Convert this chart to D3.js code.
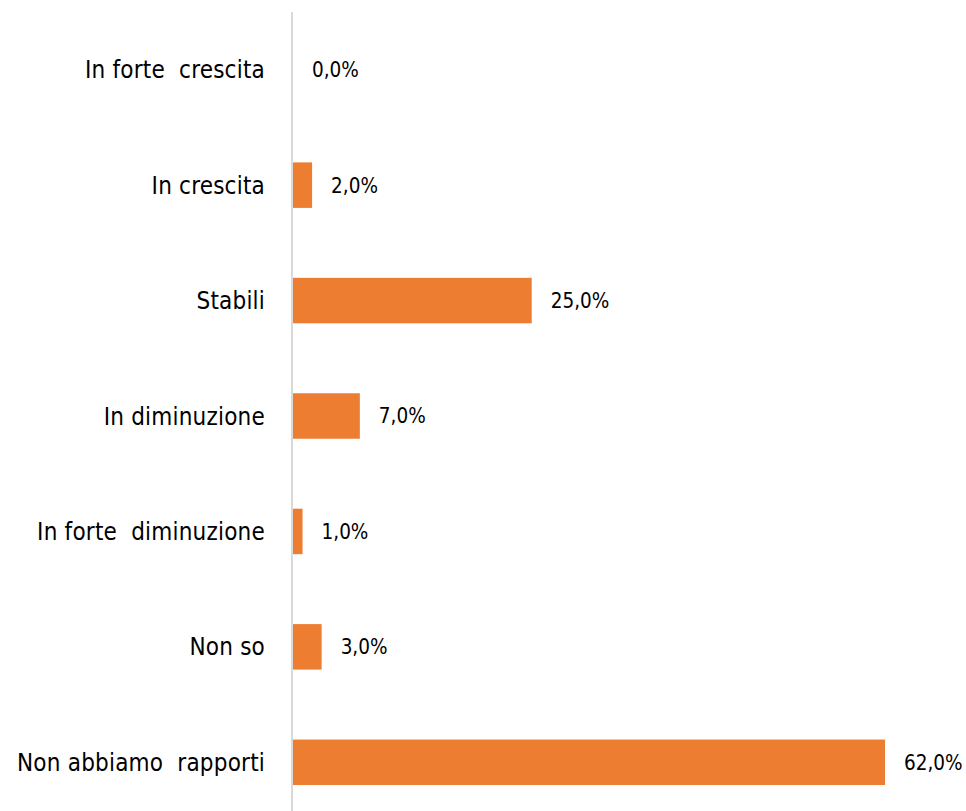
<!DOCTYPE html>
<html>
<head>
<meta charset="utf-8">
<script src="https://cdn.jsdelivr.net/npm/d3@7"></script>
<style>
  html, body { margin: 0; padding: 0; background: #ffffff; }
  svg { display: block; }
  .cat { font-family: "DejaVu Sans Condensed", "DejaVu Sans", sans-serif; font-stretch: condensed; font-size: 24px; fill: #000; white-space: pre; letter-spacing: 0.2px; }
  .val { font-family: "DejaVu Sans Condensed", "DejaVu Sans", sans-serif; font-stretch: condensed; font-size: 20.5px; fill: #000; }
</style>
</head>
<body>
<svg id="chart" width="966" height="811"></svg>
<script>
// Survey answers, top to bottom
const categories = [
  "In forte  crescita",
  "In crescita",
  "Stabili",
  "In diminuzione",
  "In forte  diminuzione",
  "Non so",
  "Non abbiamo  rapporti"
];
// Share of respondents (%)
const values = [0, 2, 25, 7, 1, 3, 62];
const valueLabels = ["0,0%", "2,0%", "25,0%", "7,0%", "1,0%", "3,0%", "62,0%"];

const W = 966, H = 811;
const svg = d3.select("#chart");

const data = categories.map((c, i) => ({ cat: c, v: values[i], label: valueLabels[i] }));

const y = d3.scaleBand()
  .domain(categories)
  .range([12, 820])
  .paddingInner(0.606)
  .paddingOuter(0.303);

const x = d3.scaleLinear()
  .domain([0, d3.max(values)])
  .range([293, 885]);

// bars
svg.append("g")
  .selectAll("rect")
  .data(data)
  .join("rect")
  .attr("x", x(0))
  .attr("y", d => y(d.cat))
  .attr("width", d => x(d.v) - x(0))
  .attr("height", y.bandwidth())
  .attr("fill", "#ED7D31");

// vertical category axis line
svg.append("line")
  .attr("x1", 292).attr("x2", 292)
  .attr("y1", 12).attr("y2", H)
  .attr("stroke", "#d9d9d9")
  .attr("stroke-width", 2);

// category labels
svg.append("g")
  .selectAll("text")
  .data(data)
  .join("text")
  .attr("class", "cat")
  .attr("x", 265)
  .attr("y", d => y(d.cat) + y.bandwidth() / 2)
  .attr("dy", "0.36em")
  .attr("text-anchor", "end")
  .text(d => d.cat);

// value labels
svg.append("g")
  .selectAll("text")
  .data(data)
  .join("text")
  .attr("class", "val")
  .attr("x", d => x(d.v) + 19)
  .attr("y", d => y(d.cat) + y.bandwidth() / 2)
  .attr("dy", "0.36em")
  .text(d => d.label);
</script>
</body>
</html>
